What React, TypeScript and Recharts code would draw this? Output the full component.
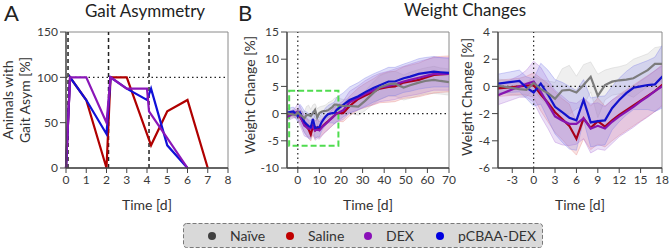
import React from 'react';
import {
  ComposedChart,
  LineChart,
  Line,
  Area,
  XAxis,
  YAxis,
  ReferenceLine,
  ReferenceArea,
} from 'recharts';

const FONT = 'Lato, "Open Sans", "DejaVu Sans", sans-serif';

// ---------- Panel A: share of animals with gait asymmetry ----------
const salineGaitDays = [0, 0.2, 1, 2, 2.2, 3, 4.2, 5, 6, 7];
const salineGaitPct = [0, 100, 75, 0, 100, 100, 25, 62.5, 75, 0];
const dexGaitDays = [0, 0.2, 1, 2, 2.2, 3, 4, 4.1, 5, 6];
const dexGaitPct = [0, 100, 100, 50, 100, 87.5, 87.5, 62.5, 33, 0];
const pcbaaGaitDays = [0, 0.2, 1, 2, 2.2, 3, 4, 4.2, 5, 6];
const pcbaaGaitPct = [0, 100, 75, 37.5, 100, 87.5, 75, 87.5, 25, 0];
const injectionDays = [0.1, 2.1, 4.1];
const gaitXTicks = [0, 1, 2, 3, 4, 5, 6, 7, 8];
const gaitYTicks = [0, 50, 100, 150];

// ---------- Panel B: body weight change (mean ± SD) ----------
const weightDays = [
  -5, -2, -1, 0, 1, 2, 3, 4, 5, 6, 7, 8, 9, 10, 11, 12, 13, 14, 15, 16, 17, 18,
  21, 24, 28, 31, 35, 38, 42, 45, 49, 52, 56, 59, 63, 66, 70,
];
const naiveMean = [
  0.05, -0.2, -0.25, 0.25, -0.2, -0.5, -0.9, -0.3, -0.25, -0.45, 0.1, 0.7, -0.7, 0.1, 0.35, 0.45, 0.5, 0.6, 0.9, 1.2, 1.65, 1.65,
  1.4, 1.4, 1.3, 2.3, 3.8, 4.8, 5.4, 5.5, 4.8, 5.2, 5.7, 6.0, 6.2, 6.0, 5.8,
];
const naiveSd = [
  0.5, 0.5, 0.5, 0.5, 0.7, 0.9, 1.2, 1.6, 1.8, 1.2, 1.5, 1.1, 1.6, 1.1, 1.0, 1.0, 1.1, 1.4, 1.3, 1.2, 1.2, 1.3,
  1.2, 1.3, 1.6, 1.8, 2.0, 2.2, 2.2, 2.3, 2.3, 2.4, 2.4, 2.4, 2.5, 2.4, 2.4,
];
const salineMean = [
  -0.15, 0.0, 0.05, 0.1, -0.6, -1.2, -1.9, -2.4, -2.9, -3.85, -2.35, -3.05, -2.55, -2.95, -2.5, -2.1, -1.75, -1.4, -1.05, -0.7, -0.35, 0.1,
  0.1, 1.4, 2.7, 3.3, 4.0, 4.6, 4.9, 5.0, 5.7, 5.9, 6.2, 6.6, 7.1, 7.2, 7.3,
];
const salineSd = [
  0.6, 0.6, 0.7, 0.9, 1.2, 1.4, 1.5, 1.5, 1.6, 1.2, 1.5, 1.6, 1.7, 1.5, 1.5, 1.5, 1.5, 1.5, 1.5, 1.5, 1.5, 1.5,
  1.6, 1.8, 2.0, 2.2, 2.4, 2.6, 2.8, 2.8, 2.9, 3.0, 3.1, 3.2, 3.3, 3.3, 3.3,
];
const dexMean = [
  -0.65, 0.0, 0.2, 0.35, -0.4, -1.3, -2.2, -2.5, -2.75, -2.75, -2.35, -3.1, -2.9, -3.1, -2.6, -2.2, -1.85, -1.5, -1.1, -0.75, -0.35, 0.0,
  0.6, 2.1, 2.9, 3.6, 4.3, 4.8, 5.1, 5.4, 5.9, 6.2, 6.6, 6.9, 7.3, 7.3, 7.3,
];
const dexSd = [
  0.7, 0.8, 1.0, 1.5, 1.8, 1.8, 1.9, 1.8, 1.6, 1.5, 1.5, 1.8, 1.7, 1.6, 1.6, 1.5, 1.5, 1.5, 1.5, 1.5, 1.5, 1.5,
  1.7, 2.0, 2.2, 2.4, 2.6, 2.6, 2.7, 2.8, 2.8, 2.9, 3.0, 3.0, 3.0, 3.0, 3.0,
];
const pcbaaMean = [
  0.2, 0.4, -0.1, -0.45, 0.2, -0.6, -1.5, -1.9, -2.3, -2.5, -1.0, -2.65, -2.55, -2.5, -1.6, -1.0, -0.5, -0.1, 0.0, 0.1, 0.15, 0.7,
  1.6, 2.5, 3.2, 3.9, 4.7, 5.2, 5.9, 5.9, 6.5, 6.8, 7.3, 7.5, 7.7, 7.6, 7.5,
];
const pcbaaSd = [
  0.7, 0.8, 0.8, 1.0, 1.5, 1.8, 2.0, 2.2, 2.3, 2.2, 1.5, 1.8, 1.8, 1.8, 1.6, 1.6, 1.6, 1.6, 1.7, 1.8, 2.0, 2.3,
  2.2, 2.4, 2.5, 2.6, 2.6, 2.6, 2.6, 2.6, 2.6, 2.7, 2.8, 2.8, 2.8, 2.7, 2.6,
];
const fullXTicks = [0, 10, 20, 30, 40, 50, 60, 70];
const fullYTicks = [-10, -5, 0, 5, 10, 15];
const zoomXTicks = [-3, 0, 3, 6, 9, 12, 15, 18];
const zoomYTicks = [-6, -4, -2, 0, 2, 4];

const groupNames = ['Naïve', 'Saline', 'DEX', 'pCBAA-DEX'];
const lineColors = ['#7c7c7c', '#a8001c', '#8714b0', '#1212cc'];
const bandColors = ['#bdbdbd', '#e58080', '#ab74d8', '#7a7ae8'];
const legendDotColors = ['#404040', '#c00000', '#8a10b8', '#0000e0'];

const gaitSeries = [
  { key: 'saline', color: '#b00000', days: salineGaitDays, pct: salineGaitPct },
  { key: 'pcbaa', color: '#1010d8', days: pcbaaGaitDays, pct: pcbaaGaitPct },
  { key: 'dex', color: '#8a16b8', days: dexGaitDays, pct: dexGaitPct },
];

const weightRows = weightDays.map((day, i) => ({
  day,
  naive: naiveMean[i],
  naiveBand: [naiveMean[i] - naiveSd[i], naiveMean[i] + naiveSd[i]],
  saline: salineMean[i],
  salineBand: [salineMean[i] - salineSd[i], salineMean[i] + salineSd[i]],
  dex: dexMean[i],
  dexBand: [dexMean[i] - dexSd[i], dexMean[i] + dexSd[i]],
  pcbaa: pcbaaMean[i],
  pcbaaBand: [pcbaaMean[i] - pcbaaSd[i], pcbaaMean[i] + pcbaaSd[i]],
}));

const seriesKeys = ['naive', 'saline', 'dex', 'pcbaa'];
const lineOrder = [1, 2, 3, 0];

const tickStyle = { fontSize: 12, fill: '#3a3a3a', fontFamily: FONT };
const axisLine = { stroke: '#444', strokeWidth: 1.3 };
const CHART_H = 200;
const MARGIN_TOP = 32;
const MARGIN_BOTTOM = 12;

function GaitChart() {
  return (
    <LineChart
      width={240}
      height={CHART_H}
      margin={{ top: MARGIN_TOP, right: 12, bottom: MARGIN_BOTTOM, left: 30 }}
    >
      <ReferenceArea x1={0} x2={8} y1={0} y2={150} fill="none" stroke="#8a8a8a" strokeWidth={1} />
      <XAxis
        dataKey="day"
        type="number"
        domain={[0, 8]}
        ticks={gaitXTicks}
        allowDuplicatedCategory={false}
        tick={tickStyle}
        axisLine={axisLine}
        tickLine={{ stroke: '#444' }}
        tickSize={5}
        tickMargin={2}
        height={20}
      />
      <YAxis
        dataKey="pct"
        type="number"
        domain={[0, 150]}
        ticks={gaitYTicks}
        tick={tickStyle}
        axisLine={axisLine}
        tickLine={{ stroke: '#444' }}
        tickSize={6}
        tickMargin={2}
        width={36}
      />
      <ReferenceLine y={100} stroke="#222" strokeWidth={1.2} strokeDasharray="1.5 3" />
      {injectionDays.map((d) => (
        <ReferenceLine key={d} x={d} stroke="#222" strokeWidth={1.5} strokeDasharray="4 3" />
      ))}
      {gaitSeries.map((s) => (
        <Line
          key={s.key}
          data={s.days.map((day, i) => ({ day, pct: s.pct[i] }))}
          dataKey="pct"
          type="linear"
          stroke={s.color}
          strokeWidth={2.2}
          dot={false}
          isAnimationActive={false}
        />
      ))}
    </LineChart>
  );
}

function WeightChart(props: {
  width: number;
  left: number;
  right: number;
  yWidth: number;
  xDomain: [number, number];
  yDomain: [number, number];
  xTicks: number[];
  yTicks: number[];
  showBox?: boolean;
}) {
  const { width, left, right, yWidth, xDomain, yDomain, xTicks, yTicks, showBox } = props;
  return (
    <ComposedChart
      width={width}
      height={CHART_H}
      data={weightRows}
      margin={{ top: MARGIN_TOP, right, bottom: MARGIN_BOTTOM, left }}
    >
      <ReferenceArea
        x1={xDomain[0]}
        x2={xDomain[1]}
        y1={yDomain[0]}
        y2={yDomain[1]}
        fill="none"
        stroke="#8a8a8a"
        strokeWidth={1}
      />
      <XAxis
        dataKey="day"
        type="number"
        domain={xDomain}
        ticks={xTicks}
        allowDataOverflow
        tick={tickStyle}
        axisLine={axisLine}
        tickLine={{ stroke: '#444' }}
        tickSize={5}
        tickMargin={2}
        height={20}
      />
      <YAxis
        type="number"
        domain={yDomain}
        ticks={yTicks}
        allowDataOverflow
        tick={tickStyle}
        axisLine={axisLine}
        tickLine={{ stroke: '#444' }}
        tickSize={6}
        tickMargin={2}
        width={yWidth}
      />
      <ReferenceLine y={0} stroke="#222" strokeWidth={1.2} strokeDasharray="1.5 3" />
      {seriesKeys.map((k, i) => (
        <Area
          key={k + 'Band'}
          dataKey={k + 'Band'}
          type="linear"
          fill={bandColors[i]}
          fillOpacity={0.24}
          stroke={bandColors[i]}
          strokeOpacity={0.5}
          strokeWidth={0.7}
          isAnimationActive={false}
        />
      ))}
      <ReferenceLine x={0} stroke="#222" strokeWidth={1.2} strokeDasharray="1.5 3" />
      {lineOrder.map((i) => (
        <Line
          key={seriesKeys[i]}
          dataKey={seriesKeys[i]}
          type="linear"
          stroke={lineColors[i]}
          strokeWidth={2.2}
          dot={false}
          isAnimationActive={false}
        />
      ))}
      {showBox && (
        <ReferenceArea
          x1={-4}
          x2={18.8}
          y1={-5.9}
          y2={4.2}
          fill="none"
          stroke="#4fdc4f"
          strokeWidth={2}
          strokeDasharray="6 3"
          ifOverflow="visible"
        />
      )}
    </ComposedChart>
  );
}

function Labels() {
  const axisTitle = { fontSize: 14, fill: '#333', fontFamily: FONT };
  const legendX = [212, 290, 368, 440];
  return (
    <svg
      width={669}
      height={250}
      style={{ position: 'absolute', left: 0, top: 0, pointerEvents: 'none' }}
    >
      <text x={4} y={21} style={{ fontSize: 22, fill: '#222', fontFamily: FONT }}>A</text>
      <text x={238} y={21} style={{ fontSize: 22, fill: '#222', fontFamily: FONT }}>B</text>
      <text x={145} y={16.5} textAnchor="middle" style={{ fontSize: 17, fill: '#222', fontFamily: FONT }}>
        Gait Asymmetry
      </text>
      <text x={465} y={16} textAnchor="middle" style={{ fontSize: 17, fill: '#222', fontFamily: FONT }}>
        Weight Changes
      </text>

      <text transform="translate(13,100) rotate(-90)" textAnchor="middle" style={axisTitle}>Animals with</text>
      <text transform="translate(30,100) rotate(-90)" textAnchor="middle" style={axisTitle}>Gait Asym [%]</text>
      <text transform="translate(255,95) rotate(-90)" textAnchor="middle" style={axisTitle}>Weight Change [%]</text>
      <text transform="translate(472,97) rotate(-90)" textAnchor="middle" style={axisTitle}>Weight Change [%]</text>

      <text x={147} y={210} textAnchor="middle" style={axisTitle}>Time [d]</text>
      <text x={368} y={210} textAnchor="middle" style={axisTitle}>Time [d]</text>
      <text x={580} y={210} textAnchor="middle" style={axisTitle}>Time [d]</text>

      <rect
        x={183.5}
        y={223.5}
        width={359}
        height={24}
        rx={3}
        fill="#d9d9d9"
        stroke="#7a7a7a"
        strokeWidth={1}
        strokeDasharray="4 2"
      />
      {groupNames.map((name, i) => (
        <g key={name}>
          <circle cx={legendX[i]} cy={236} r={4} fill={legendDotColors[i]} />
          <text x={legendX[i] + 18} y={241} style={{ fontSize: 14, fill: '#333', fontFamily: FONT }}>
            {name}
          </text>
        </g>
      ))}
    </svg>
  );
}

export default function App() {
  return (
    <div
      style={{
        position: 'absolute',
        left: 0,
        top: 0,
        width: 669,
        height: 250,
        background: '#fff',
        fontFamily: FONT,
        overflow: 'hidden',
      }}
    >
      <Labels />
      <div style={{ position: 'absolute', left: 0, top: 0 }}>
        <GaitChart />
      </div>
      <div style={{ position: 'absolute', left: 250, top: 0 }}>
        <WeightChart
          width={210}
          left={7}
          right={11}
          yWidth={30}
          xDomain={[-5, 70]}
          yDomain={[-10, 15]}
          xTicks={fullXTicks}
          yTicks={fullYTicks}
          showBox
        />
      </div>
      <div style={{ position: 'absolute', left: 460, top: 0 }}>
        <WeightChart
          width={209}
          left={8}
          right={7}
          yWidth={30}
          xDomain={[-5, 18]}
          yDomain={[-6, 4]}
          xTicks={zoomXTicks}
          yTicks={zoomYTicks}
        />
      </div>
    </div>
  );
}
